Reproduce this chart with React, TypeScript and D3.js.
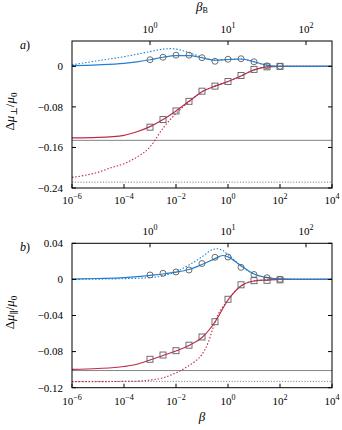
import React, { useEffect, useRef } from 'react';
import * as d3 from 'd3';

// beta range of both panels
const betaDomain = [1e-6, 1e4];
const betaTicks = [-6, -4, -2, 0, 2, 4]; // exponents
const betaBDomain = [0.1, 10 ** (7 / 3)];
const betaBTicks = [0, 1, 2]; // exponents

// marker positions (log10 beta)
const markerLogBeta = [-3, -2.5, -2, -1.5, -1, -0.5, 0, 0.5, 1, 1.5, 2];

// ---- panel a) perpendicular ----
const perpCircles = [0.013, 0.018, 0.022, 0.022, 0.017, 0.01, 0.014, 0.015, 0.009, 0.001, 0];
const perpSquares = [-0.12, -0.105, -0.088, -0.069, -0.049, -0.039, -0.03, -0.018, -0.006, -0.001, 0];

const perpRedSolidX = [-6, -5, -4, -3.5, -3, -2.5, -2, -1.5, -1, -0.5, 0, 0.5, 1, 1.5, 2, 3, 4];
const perpRedSolidY = [-0.141, -0.14, -0.136, -0.129, -0.119, -0.105, -0.088, -0.069, -0.05, -0.039, -0.03, -0.019, -0.007, -0.001, 0, 0, 0];
const perpRedDotX = [-6, -5.5, -5, -4.5, -4, -3.5, -3, -2.5, -2, -1.5, -1, -0.5, 0, 0.5, 1, 1.5, 2, 3, 4];
const perpRedDotY = [-0.219, -0.215, -0.209, -0.2, -0.192, -0.179, -0.159, -0.122, -0.093, -0.07, -0.05, -0.039, -0.03, -0.019, -0.007, -0.001, 0, 0, 0];
const perpBlueSolidX = [-6, -5, -4, -3.5, -3, -2.5, -2, -1.5, -1, -0.5, 0, 0.5, 1, 1.5, 2, 3, 4];
const perpBlueSolidY = [0.0014, 0.003, 0.006, 0.009, 0.013, 0.018, 0.021, 0.021, 0.017, 0.012, 0.0135, 0.0145, 0.009, 0.002, 0, 0, 0];
const perpBlueDotX = [-6, -5, -4, -3.5, -3, -2.5, -2.2, -2, -1.5, -1, -0.5, 0, 0.5, 1, 1.5, 2, 3, 4];
const perpBlueDotY = [0.003, 0.011, 0.019, 0.024, 0.029, 0.034, 0.035, 0.034, 0.027, 0.018, 0.012, 0.0135, 0.0145, 0.009, 0.002, 0, 0, 0];
const perpGraySolid = -0.146;
const perpGrayDot = -0.2285;

// ---- panel b) parallel ----
const parCircles = [0.0049, 0.0068, 0.0082, 0.0104, 0.0176, 0.0245, 0.0248, 0.0134, 0.0054, 0.0019, 0.0001];
const parSquares = [-0.0885, -0.0838, -0.079, -0.0729, -0.0638, -0.0469, -0.022, -0.006, -0.0014, -0.001, -0.0005];

const parRedSolidX = [-6, -5, -4, -3.5, -3, -2.5, -2, -1.5, -1, -0.5, 0, 0.5, 1, 1.5, 2, 3, 4];
const parRedSolidY = [-0.0996, -0.0987, -0.0965, -0.094, -0.0893, -0.0843, -0.0793, -0.0732, -0.0644, -0.0472, -0.0228, -0.0073, -0.0018, -0.0007, 0, 0, 0];
const parRedDotX = [-6, -5, -4, -3.5, -3, -2.5, -2, -1.5, -1.25, -1, -0.75, -0.6, -0.5, 0, 0.5, 1, 1.5, 2, 3, 4];
const parRedDotY = [-0.1133, -0.1133, -0.113, -0.1128, -0.1115, -0.109, -0.1035, -0.0955, -0.0905, -0.083, -0.069, -0.056, -0.0472, -0.0228, -0.0073, -0.0018, -0.0007, 0, 0, 0];
const parBlueSolidX = [-6, -5, -4, -3.5, -3, -2.5, -2, -1.5, -1, -0.5, -0.2, 0, 0.5, 1, 1.5, 2, 2.5, 3, 4];
const parBlueSolidY = [0.0003, 0.001, 0.002, 0.003, 0.0045, 0.006, 0.008, 0.011, 0.0165, 0.023, 0.0265, 0.025, 0.015, 0.006, 0.002, 0.0005, 0, 0, 0];
const parBlueDotX = [-6, -5, -4, -3, -2.5, -2, -1.5, -1, -0.6, -0.4, -0.2, 0, 0.3, 0.5, 1, 1.5, 2, 2.5, 3, 4];
const parBlueDotY = [0, 0.0003, 0.0008, 0.002, 0.004, 0.0085, 0.016, 0.025, 0.033, 0.034, 0.032, 0.0275, 0.02, 0.015, 0.006, 0.002, 0.0005, 0, 0, 0];
const parGraySolid = -0.101;
const parGrayDot = -0.113;

const BLUE = '#2280d2';
const RED = '#bf2a4c';
const GRAY = '#858585';
const MARK = '#5f5f5f';
const FONT = "'Liberation Serif', 'DejaVu Serif', serif";

const panels = [
  {
    key: 'a',
    top: 41, bottom: 188,
    yDomain: [-0.24, 0.05],
    yTicks: [0, -0.08, -0.16, -0.24],
    sub: '⊥',
    label: 'a',
    circles: perpCircles, squares: perpSquares,
    redSolid: [perpRedSolidX, perpRedSolidY], redDot: [perpRedDotX, perpRedDotY],
    blueSolid: [perpBlueSolidX, perpBlueSolidY], blueDot: [perpBlueDotX, perpBlueDotY],
    graySolid: perpGraySolid, grayDot: perpGrayDot,
    xLabelBase: 204, topLabelBase: 33,
  },
  {
    key: 'b',
    top: 243.3, bottom: 387.7,
    yDomain: [-0.12, 0.04],
    yTicks: [0.04, 0, -0.04, -0.08, -0.12],
    sub: '∥',
    label: 'b',
    circles: parCircles, squares: parSquares,
    redSolid: [parRedSolidX, parRedSolidY], redDot: [parRedDotX, parRedDotY],
    blueSolid: [parBlueSolidX, parBlueSolidY], blueDot: [parBlueDotX, parBlueDotY],
    graySolid: parGraySolid, grayDot: parGrayDot,
    xLabelBase: 405, topLabelBase: 235,
  },
];

const left = 72;
const right = 332;

const fmtY = (v) => (v === 0 ? '0' : d3.format('.2f')(v));

const App = () => {
  const svgRef = useRef(null);

  useEffect(() => {
    const svg = d3.select(svgRef.current);
    svg.selectAll('*').remove();

    const x = d3.scaleLog().domain(betaDomain).range([left, right]);
    const xB = d3.scaleLog().domain(betaBDomain).range([left, right]);

    const power = (sel, exp, fs, supFs) => {
      sel.append('tspan').attr('font-size', fs).text('10');
      sel
        .append('tspan')
        .attr('font-size', supFs)
        .attr('dy', -5)
        .text(String(exp).replace('-', '−'));
    };

    panels.forEach((p) => {
      const y = d3.scaleLinear().domain(p.yDomain).range([p.bottom, p.top]);
      const g = svg.append('g').style('font-family', FONT);

      const clipId = `clip-${p.key}`;
      g.append('clipPath')
        .attr('id', clipId)
        .append('rect')
        .attr('x', left)
        .attr('y', p.top)
        .attr('width', right - left)
        .attr('height', p.bottom - p.top);

      const plot = g.append('g').attr('clip-path', `url(#${clipId})`);

      // reference levels
      plot
        .append('line')
        .attr('x1', left).attr('x2', right)
        .attr('y1', y(p.graySolid)).attr('y2', y(p.graySolid))
        .attr('stroke', GRAY).attr('stroke-width', 1);
      plot
        .append('line')
        .attr('x1', left).attr('x2', right)
        .attr('y1', y(p.grayDot)).attr('y2', y(p.grayDot))
        .attr('stroke', GRAY).attr('stroke-width', 1)
        .attr('stroke-dasharray', '1.2 1.6');

      const line = d3
        .line()
        .x((d) => x(10 ** d[0]))
        .y((d) => y(d[1]))
        .curve(d3.curveMonotoneX);

      const curve = ([xs, ys], color, dotted) => {
        plot
          .append('path')
          .datum(xs.map((e, i) => [e, ys[i]]))
          .attr('fill', 'none')
          .attr('stroke', color)
          .attr('stroke-width', dotted ? 1.1 : 1.2)
          .attr('stroke-dasharray', dotted ? '1.5 1.8' : null)
          .attr('d', line);
      };

      curve(p.redDot, RED, true);
      curve(p.redSolid, RED, false);
      curve(p.blueDot, BLUE, true);
      curve(p.blueSolid, BLUE, false);

      // simulation markers
      plot
        .selectAll('rect.sq')
        .data(p.squares)
        .join('rect')
        .attr('class', 'sq')
        .attr('x', (d, i) => x(10 ** markerLogBeta[i]) - 3)
        .attr('y', (d) => y(d) - 3)
        .attr('width', 6)
        .attr('height', 6)
        .attr('fill', 'none')
        .attr('stroke', MARK)
        .attr('stroke-width', 0.9);
      plot
        .selectAll('circle.ci')
        .data(p.circles)
        .join('circle')
        .attr('class', 'ci')
        .attr('cx', (d, i) => x(10 ** markerLogBeta[i]))
        .attr('cy', (d) => y(d))
        .attr('r', 3)
        .attr('fill', 'none')
        .attr('stroke', MARK)
        .attr('stroke-width', 0.9);

      // frame
      g.append('rect')
        .attr('x', left)
        .attr('y', p.top)
        .attr('width', right - left)
        .attr('height', p.bottom - p.top)
        .attr('fill', 'none')
        .attr('stroke', '#000')
        .attr('stroke-width', 1);

      // y ticks, mirrored
      p.yTicks.forEach((t) => {
        const yy = y(t);
        g.append('line').attr('x1', left).attr('x2', left + 4).attr('y1', yy).attr('y2', yy).attr('stroke', '#000');
        g.append('line').attr('x1', right - 4).attr('x2', right).attr('y1', yy).attr('y2', yy).attr('stroke', '#000');
        g.append('text')
          .attr('x', 63)
          .attr('y', yy + 3.8)
          .attr('text-anchor', 'end')
          .attr('font-size', 11)
          .text(fmtY(t));
      });

      // bottom beta axis
      betaTicks.forEach((e) => {
        const xx = x(10 ** e);
        g.append('line').attr('x1', xx).attr('x2', xx).attr('y1', p.bottom).attr('y2', p.bottom - 4).attr('stroke', '#000');
        const t = g
          .append('text')
          .attr('x', xx)
          .attr('y', p.xLabelBase)
          .attr('text-anchor', 'middle');
        power(t, e, 11, 8);
      });

      // top beta_B axis
      betaBTicks.forEach((e) => {
        const xx = xB(10 ** e);
        g.append('line').attr('x1', xx).attr('x2', xx).attr('y1', p.top).attr('y2', p.top + 4).attr('stroke', '#000');
        const t = g
          .append('text')
          .attr('x', xx)
          .attr('y', p.topLabelBase)
          .attr('text-anchor', 'middle');
        power(t, e, 11, 8);
      });

      // panel label
      const pl = g
        .append('text')
        .attr('x', 20)
        .attr('y', p.top + 8)
        .attr('font-size', 12);
      pl.append('tspan').attr('font-style', 'italic').text(p.label);
      pl.append('tspan').text(')');

      // y title
      const cy = (p.top + p.bottom) / 2 - 3;
      const yt = g
        .append('text')
        .attr('transform', `translate(14,${cy}) rotate(-90)`)
        .attr('text-anchor', 'middle')
        .attr('font-size', 13);
      yt.append('tspan').text('Δ');
      yt.append('tspan').attr('font-style', 'italic').text('μ');
      yt.append('tspan').attr('font-size', 9).attr('dy', 3).text(p.sub);
      yt.append('tspan').attr('dy', -3).text('/');
      yt.append('tspan').attr('font-style', 'italic').text('μ');
      yt.append('tspan').attr('font-size', 9).attr('dy', 3).text('0');
    });

    // axis titles
    const tb = svg
      .append('text')
      .attr('x', 202)
      .attr('y', 10.5)
      .attr('text-anchor', 'middle')
      .style('font-family', FONT)
      .attr('font-size', 13);
    tb.append('tspan').attr('font-style', 'italic').text('β');
    tb.append('tspan').attr('font-size', 8).attr('dy', 2).text('B');

    svg
      .append('text')
      .attr('x', 202)
      .attr('y', 421)
      .attr('text-anchor', 'middle')
      .style('font-family', FONT)
      .attr('font-size', 13)
      .attr('font-style', 'italic')
      .text('β');
  }, []);

  return (
    <svg
      ref={svgRef}
      width={342}
      height={430}
      style={{ position: 'absolute', left: 0, top: 0, background: '#fff' }}
    />
  );
};

export default App;
